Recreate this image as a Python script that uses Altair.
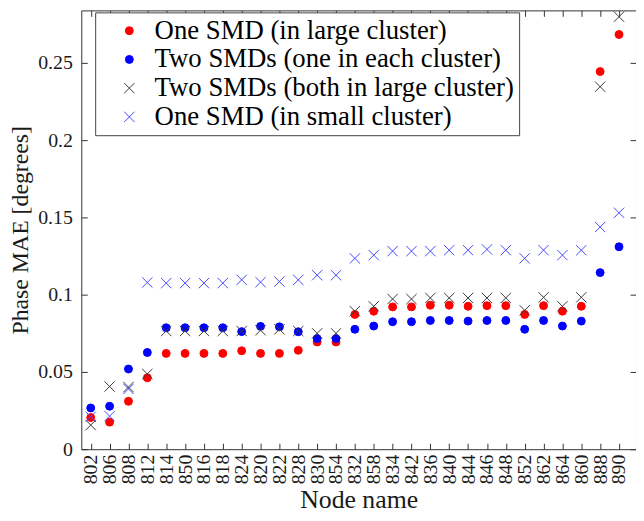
import altair as alt
import pandas as pd

nodes = ["802", "806", "808", "812", "814", "850", "816", "818", "824", "820",
         "822", "828", "830", "854", "832", "858", "834", "842", "836", "840",
         "844", "846", "848", "852", "862", "864", "860", "888", "890"]

series_names = ["One SMD (in large cluster)",
                "Two SMDs (one in each cluster)",
                "Two SMDs (both in large cluster)",
                "One SMD (in small cluster)"]

one_large = [0.0205, 0.0175, 0.0310, 0.0462, 0.0620, 0.0620, 0.0620, 0.0620, 0.0637, 0.0620,
             0.0620, 0.0640, 0.0694, 0.0694, 0.0872, 0.0893, 0.0921, 0.0921, 0.0932, 0.0932,
             0.0925, 0.0929, 0.0929, 0.0872, 0.0929, 0.0893, 0.0925, 0.2444, 0.2684]

two_each = [0.0267, 0.0278, 0.0519, 0.0626, 0.0786, 0.0786, 0.0786, 0.0786, 0.0761, 0.0795,
            0.0792, 0.0760, 0.0716, 0.0716, 0.0776, 0.0797, 0.0825, 0.0825, 0.0833, 0.0833,
            0.0829, 0.0833, 0.0833, 0.0776, 0.0833, 0.0797, 0.0829, 0.1143, 0.1310]

two_large = [0.0156, 0.0406, 0.0402, 0.0487, 0.0765, 0.0765, 0.0765, 0.0765, 0.0765, 0.0770,
             0.0776, 0.0765, 0.0750, 0.0750, 0.0893, 0.0925, 0.0972, 0.0972, 0.0979, 0.0979,
             0.0979, 0.0979, 0.0979, 0.0899, 0.0983, 0.0925, 0.0983, 0.2346, 0.2799]

one_small = [0.0210, 0.0214, 0.0390, 0.1079, 0.1075, 0.1075, 0.1075, 0.1075, 0.1096, 0.1081,
             0.1085, 0.1096, 0.1126, 0.1126, 0.1235, 0.1256, 0.1282, 0.1282, 0.1282, 0.1288,
             0.1288, 0.1293, 0.1288, 0.1235, 0.1288, 0.1256, 0.1288, 0.1438, 0.1530]

y_ticks = [0, 0.05, 0.1, 0.15, 0.2, 0.25]

rows = []
for k, (s, vals) in enumerate(zip(series_names, [one_large, two_each, two_large, one_small])):
    for i, (n, v) in enumerate(zip(nodes, vals)):
        rows.append({"idx": i + 1, "node": n, "series": s, "value": v, "k": k})
df = pd.DataFrame(rows)

W, H = 560, 443
FONT = "Liberation Serif"
XPATH = "M-1.3,-1.3L1.3,1.3M-1.3,1.3L1.3,-1.3"
x_ticks = list(range(1, len(nodes) + 1))
label_expr = "[" + ",".join("'%s'" % n for n in nodes) + "][datum.value - 1]"

xscale = alt.Scale(domain=[0.5, 29.9], nice=False, zero=False)
yscale = alt.Scale(domain=[0, 0.284], nice=False, zero=False)

fills = ["#ff0000", "#0000ff", "transparent", "transparent"]
strokes = ["#ff0000", "#0000ff", "#3a3a3a", "#4848ff"]
shapes = ["circle", "circle", XPATH, XPATH]

def leg():
    return alt.Legend(title=None, labelFont=FONT, labelFontSize=27, labelColor="black",
                      orient="none", legendX=14, legendY=2)

points = alt.Chart(df).mark_point(size=64, strokeWidth=1, opacity=1).encode(
    x=alt.X("idx:Q", scale=xscale,
            axis=alt.Axis(values=x_ticks, labelExpr=label_expr, labelAngle=270,
                          labelFont=FONT, labelFontSize=20, labelColor="#1a1a1a",
                          labelOverlap=False, labelBound=False,
                          ticks=False, domain=False, grid=False,
                          labelPadding=5, title="Node name", titleFont=FONT,
                          titleFontSize=26, titleFontWeight="normal",
                          titleColor="#1a1a1a", titlePadding=3)),
    y=alt.Y("value:Q", scale=yscale,
            axis=alt.Axis(values=y_ticks, format="~g", labelFont=FONT, labelFontSize=20,
                          labelColor="#1a1a1a", labelOverlap=False,
                          ticks=False, domain=False, grid=False, labelPadding=9,
                          title="Phase MAE [degrees]", titleFont=FONT, titleFontSize=24,
                          titleFontWeight="normal", titleColor="#1a1a1a",
                          titlePadding=5)),
    fill=alt.Fill("series:N", scale=alt.Scale(domain=series_names, range=fills),
                  legend=leg()),
    stroke=alt.Stroke("series:N", scale=alt.Scale(domain=series_names, range=strokes),
                      legend=leg()),
    shape=alt.Shape("series:N", scale=alt.Scale(domain=series_names, range=shapes),
                    legend=leg()),
)

def tick_layer(xorient, yorient):
    return alt.Chart(df).mark_point(opacity=0).encode(
        x=alt.X("idx:Q", scale=xscale,
                axis=alt.Axis(orient=xorient, offset=-H, values=x_ticks, labels=False,
                              ticks=True, tickSize=6, tickColor="#333333", domain=False,
                              grid=False, title=None)),
        y=alt.Y("value:Q", scale=yscale,
                axis=alt.Axis(orient=yorient, offset=-W, values=y_ticks, labels=False,
                              ticks=True, tickSize=6, tickColor="#333333", domain=False,
                              grid=False, title=None)),
    )

chart = alt.layer(points, tick_layer("top", "right"), tick_layer("bottom", "left")).resolve_axis(
    x="independent", y="independent"
).properties(
    width=W, height=H,
    autosize=alt.AutoSizeParams(type="none"),
    padding={"left": 74, "top": 0, "right": 0, "bottom": 62},
    background="white",
).configure(
    font=FONT,
    style={"guide-label": {"font": FONT}, "guide-title": {"font": FONT}},
).configure_view(
    stroke="#333333", strokeWidth=1
).configure_axis(
    labelFont=FONT, titleFont=FONT
).configure_legend(
    orient="none", legendX=14, legendY=2, padding=5, symbolOffset=16, labelOffset=12,
    rowPadding=1, strokeColor="#444444", fillColor="white", labelFont=FONT,
    labelFontSize=27, labelColor="black", symbolSize=64, symbolStrokeWidth=1,
    cornerRadius=0, labelLimit=600
)

chart.save("out.html", embed_options={"renderer": "svg", "actions": False})
